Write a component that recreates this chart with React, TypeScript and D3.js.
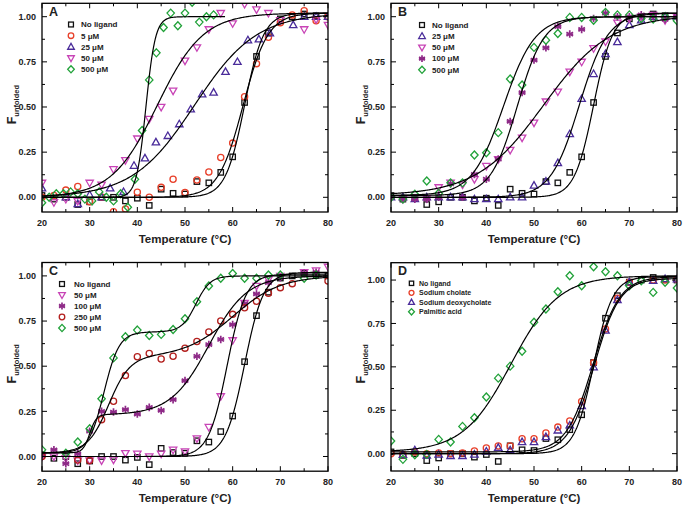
import React from 'react';
import * as d3 from 'd3';

const FONT = '"Liberation Sans", Arial, Helvetica, sans-serif';

// ---- tick values ----
const xMajor = [20, 30, 40, 50, 60, 70, 80];
const xMinor = [25, 35, 45, 55, 65, 75];
const yMajor = [0, 0.25, 0.5, 0.75, 1.0];
const yMinor = [0.125, 0.375, 0.625, 0.875];

// ---- data: [temperature °C, F unfolded] ----
const noLigand: [number, number][] = [[20,0.01],[22.5,-0.01],[25,0.0],[27.5,-0.04],[30,-0.025],[32.5,0.0],[35,0.0],[37.5,-0.02],[40,-0.005],[42.5,-0.045],[45,0.045],[47.5,0.022],[50,0.018],[52.5,0.087],[55,0.08],[57.5,0.138],[60,0.224],[62.5,0.525],[65,0.78],[67.5,0.91],[70,0.988],[72.5,1.0],[75,1.015],[77.5,1.005],[80,1.0]];

const a5uM: [number, number][] = [[20,0.0],[22.5,0.01],[25,0.04],[27.5,0.06],[30,-0.024],[32.5,0.0],[35,-0.08],[37.5,-0.065],[40,0.028],[42.5,0.0],[45,0.055],[47.5,0.10],[50,0.026],[52.5,0.096],[55,0.14],[57.5,0.22],[60,0.30],[62.5,0.557],[65,0.74],[67.5,0.886],[70,0.967],[72.5,1.01],[75,1.033],[77.5,0.978],[80,1.0]];
const a25uM: [number, number][] = [[20,0.05],[25,0.0],[27.5,-0.037],[30,0.013],[32.5,0.0],[34.3,0.05],[37.1,0.03],[39.3,0.175],[41.6,0.216],[43.9,0.305],[46.4,0.34],[48.8,0.405],[51.2,0.487],[53.6,0.57],[56.0,0.58],[58.5,0.695],[61.0,0.75],[63.2,0.87],[65.5,0.875],[67.8,0.908],[72.7,0.954],[75,1.0],[77.5,1.0],[80,1.0]];
const a50uM: [number, number][] = [[20,0.08],[22.5,-0.028],[25,-0.01],[27.5,-0.02],[30,0.08],[32.5,0.07],[35,0.155],[37.5,0.205],[40,0.325],[42.5,0.434],[45,0.50],[47.5,0.59],[50,0.756],[52.5,0.83],[55,0.93],[57.5,1.02],[60,0.963],[62.5,1.07],[65,1.04],[67.5,1.02],[70,0.98],[75,0.93],[77.5,0.985],[80,0.954]];
const a500uM: [number, number][] = [[20,-0.03],[21.5,0.0],[23,0.02],[24.5,0.02],[26,0.03],[27.5,0.02],[29,-0.01],[30.5,-0.02],[32,0.03],[33.5,0.0],[35,-0.02],[36.5,0.02],[38,-0.055],[39.5,0.10],[41,0.37],[42.5,0.65],[44,0.80],[45.5,0.94],[47,1.02],[48.5,0.95],[50,1.02],[51.5,1.08],[53,0.97],[54.5,1.0],[56,1.01]];

const b25uM: [number, number][] = [[20,0.0],[22.5,0.0],[25,-0.01],[27.5,0.0],[30,0.0],[32.5,0.0],[35,0.0],[37.5,-0.01],[40,-0.01],[42.5,-0.01],[45,0.0],[47.5,0.0],[50,0.065],[52.5,0.087],[55,0.19],[57.5,0.35],[60,0.545],[62.5,0.683],[65,0.793],[67.5,0.86],[70,0.954],[72.5,0.98],[75,1.0],[77.5,1.0],[80,1.0]];
const b50uM: [number, number][] = [[22.5,-0.01],[25,0.0],[27.5,-0.005],[30,0.055],[32.5,0.08],[35,0.07],[37.5,0.10],[40,0.173],[42.5,0.21],[45,0.262],[47.5,0.33],[50,0.413],[52.5,0.53],[55,0.585],[57.5,0.695],[60,0.75],[62.5,0.825],[65,0.862],[67.5,0.967],[70,0.99],[72.5,1.0],[75,1.01],[77.5,0.98],[80,1.0]];
const b100uM: [number, number][] = [[20,0.0],[22.5,-0.01],[25,-0.01],[27.5,-0.01],[30,0.0],[32.5,0.075],[35,0.0],[37.5,0.127],[40,0.10],[42.5,0.212],[45,0.42],[47.5,0.58],[50,0.76],[52.5,0.828],[55,0.945],[57.5,0.904],[60,0.93],[62.5,0.99],[65,1.02],[67.5,1.0],[70,1.0],[72.5,1.01],[75,1.0],[77.5,0.985],[80,1.0]];
const b500uM: [number, number][] = [[20,0.0],[22.5,-0.01],[25,0.017],[27.5,0.09],[30,0.022],[32.5,0.08],[35,0.08],[37.5,0.234],[40,0.247],[42.5,0.358],[45,0.655],[47.5,0.622],[50,0.83],[52.5,0.87],[55,0.907],[57.5,0.996],[60,0.996],[62.5,0.98],[65,1.024],[67.5,1.01],[70,1.01],[72.5,0.99],[75,0.987],[77.5,1.0],[80,0.978]];

const c50uM: [number, number][] = [[20,0.0],[22.5,0.0],[25,-0.01],[27.5,-0.022],[30,-0.022],[32.5,-0.022],[35,-0.018],[37.5,0.018],[40,0.015],[42.5,0.0],[45,0.015],[47.5,0.037],[50,0.028],[52.5,0.10],[55,0.163],[57.5,0.333],[60,0.643],[62.5,0.85],[65,0.944],[67.5,0.98],[70,1.0],[75,1.02],[77.5,1.03],[80,1.05]];
const c100uM: [number, number][] = [[20,0.01],[22.5,0.037],[25,-0.04],[27.5,0.015],[30,0.14],[32.5,0.25],[35,0.246],[37.5,0.26],[40,0.235],[42.5,0.272],[45,0.255],[47.5,0.315],[50,0.42],[52.5,0.555],[55,0.62],[57.5,0.648],[60,0.73],[62.5,0.846],[65,0.90],[67.5,0.963],[70,0.99],[75,1.015],[77.5,1.02]];
const c250uM: [number, number][] = [[20,0.0],[27.5,-0.02],[30,-0.022],[32.5,0.204],[35,0.306],[37.5,0.448],[40,0.552],[42.5,0.57],[45,0.54],[47.5,0.555],[50,0.60],[52.5,0.637],[55,0.69],[57.5,0.75],[60,0.787],[62.5,0.824],[65,0.86],[67.5,0.904],[70,0.935],[72.5,0.957],[80,0.972]];
const c500uM: [number, number][] = [[20,0.037],[25,0.018],[27.5,0.08],[30,0.154],[32.5,0.32],[35,0.546],[37.5,0.663],[40,0.70],[42.5,0.67],[45,0.676],[47.5,0.703],[50,0.763],[52.5,0.857],[55,0.944],[57.5,0.987],[60,1.013],[62.5,0.987],[65,0.987],[67.5,1.005],[70,1.005],[75,0.987],[77.5,1.005]];

const dCholate: [number, number][] = [[20,0.0],[22.5,-0.005],[25,0.01],[27.5,0.0],[30,0.004],[32.5,0.0],[35,0.004],[37.5,0.015],[40,0.033],[42.5,0.044],[45,0.044],[47.5,0.086],[50,0.086],[52.5,0.119],[55,0.153],[57.5,0.188],[60,0.30],[62.5,0.523],[65,0.718],[67.5,0.895],[70,0.987],[75,1.0],[77.5,1.0],[80,1.005]];
const dDeoxy: [number, number][] = [[22.5,-0.006],[25,0.02],[27.5,-0.01],[30,-0.005],[32.5,-0.013],[35,-0.013],[37.5,-0.005],[40,0.013],[42.5,0.034],[45,0.02],[47.5,0.067],[50,0.067],[52.5,0.096],[55,0.134],[57.5,0.163],[60,0.274],[62.5,0.498],[65,0.709],[67.5,0.885],[70,0.987],[75,0.996],[77.5,1.006],[80,1.005]];
const dPalmitic: [number, number][] = [[20,0.073],[22.5,-0.033],[25,-0.006],[27.5,-0.004],[30,0.082],[32.5,0.067],[35,0.157],[37.5,0.207],[40,0.326],[42.5,0.435],[45,0.504],[47.5,0.59],[50,0.757],[52.5,0.833],[55,0.933],[57.5,1.025],[60,0.967],[62.5,1.077],[65,1.048],[67.5,1.025],[70,0.967],[72.5,0.996],[75,0.929],[77.5,0.987],[80,0.954]];

// ---- fitted transitions: [baseline, amp1, Tm1, width1, (amp2, Tm2, width2)] ----
const fitNoLigand = [0, 1.02, 62.5, 2.0];
const fitA5 = [0, 1.02, 62.2, 2.6];
const fitA25 = [0, 1.02, 52, 6.5];
const fitA50 = [0, 1.02, 44.2, 4.8];
const fitA500 = [0, 1.0, 41.8, 1.0];
const fitB25 = [0, 1.02, 59.5, 3.0];
const fitB50 = [0.01, 1.0, 52, 7];
const fitB100 = [0.01, 0.99, 46.5, 2.8];
const fitB500 = [0.01, 0.99, 43.6, 3.3];
const fitC50 = [0, 1.01, 58.85, 1.95];
const fitC100 = [0.02, 0.21, 30, 0.7, 0.77, 55, 4];
const fitC250 = [0.02, 0.53, 34, 2.2, 0.45, 60, 5];
const fitC500 = [0.02, 0.67, 33, 1.6, 0.31, 52.3, 1.5];
const fitCholate = [0.01, 1.01, 62.4, 2.8];
const fitDeoxy = [0.0, 1.01, 62.6, 2.7];
const fitPalmitic = [0.01, 1.015, 45.2, 5.0];

const BLACK = '#111111';
const RED = '#e8402a';
const DARKRED = '#b3201e';
const INDIGO = '#4a2c9a';
const MAGENTA = '#c844b6';
const PURPLE = '#8e2a87';
const GREEN = '#22a23a';

type Marker = 'square' | 'circle' | 'triUp' | 'triDown' | 'star' | 'diamond';
type Series = { name: string; data: [number, number][]; marker: Marker; color: string; fit: number[]; fitEnd?: number };

type Panel = {
  letter: string;
  x0: number; x1: number; yTop: number; yBot: number;
  yDomain: [number, number];
  legendX: number; legendTextX: number; legendY: number; legendStep: number; legendFont: number; legendScale: number;
  series: Series[];
};

const panels: Panel[] = [
  {
    letter: 'A', x0: 42, x1: 328, yTop: 3.3, yBot: 212, yDomain: [-0.0814, 1.0742],
    legendX: 71, legendTextX: 81, legendY: 24.5, legendStep: 11.2, legendFont: 8, legendScale: 0.9,
    series: [
      { name: 'No ligand', data: noLigand, marker: 'square', color: BLACK, fit: fitNoLigand },
      { name: '5 μM', data: a5uM, marker: 'circle', color: RED, fit: fitA5 },
      { name: '25 μM', data: a25uM, marker: 'triUp', color: INDIGO, fit: fitA25 },
      { name: '50 μM', data: a50uM, marker: 'triDown', color: MAGENTA, fit: fitA50 },
      { name: '500 μM', data: a500uM, marker: 'diamond', color: GREEN, fit: fitA500, fitEnd: 58.5 },
    ],
  },
  {
    letter: 'B', x0: 391, x1: 677, yTop: 3.3, yBot: 212, yDomain: [-0.0814, 1.0742],
    legendX: 422, legendTextX: 432, legendY: 25, legendStep: 11.2, legendFont: 8, legendScale: 0.9,
    series: [
      { name: 'No ligand', data: noLigand, marker: 'square', color: BLACK, fit: fitNoLigand },
      { name: '25 μM', data: b25uM, marker: 'triUp', color: INDIGO, fit: fitB25 },
      { name: '50 μM', data: b50uM, marker: 'triDown', color: MAGENTA, fit: fitB50 },
      { name: '100 μM', data: b100uM, marker: 'star', color: PURPLE, fit: fitB100 },
      { name: '500 μM', data: b500uM, marker: 'diamond', color: GREEN, fit: fitB500 },
    ],
  },
  {
    letter: 'C', x0: 42, x1: 328, yTop: 262.5, yBot: 471.2, yDomain: [-0.0814, 1.0742],
    legendX: 62, legendTextX: 74, legendY: 284, legendStep: 11, legendFont: 8, legendScale: 0.9,
    series: [
      { name: 'No ligand', data: noLigand, marker: 'square', color: BLACK, fit: fitNoLigand },
      { name: '50 μM', data: c50uM, marker: 'triDown', color: MAGENTA, fit: fitC50 },
      { name: '100 μM', data: c100uM, marker: 'star', color: PURPLE, fit: fitC100 },
      { name: '250 μM', data: c250uM, marker: 'circle', color: DARKRED, fit: fitC250 },
      { name: '500 μM', data: c500uM, marker: 'diamond', color: GREEN, fit: fitC500 },
    ],
  },
  {
    letter: 'D', x0: 391, x1: 677, yTop: 262.7, yBot: 471, yDomain: [-0.1, 1.1],
    legendX: 411.5, legendTextX: 419, legendY: 283.3, legendStep: 9.5, legendFont: 7, legendScale: 0.8,
    series: [
      { name: 'No ligand', data: noLigand, marker: 'square', color: BLACK, fit: fitNoLigand },
      { name: 'Sodium cholate', data: dCholate, marker: 'circle', color: RED, fit: fitCholate },
      { name: 'Sodium deoxycholate', data: dDeoxy, marker: 'triUp', color: INDIGO, fit: fitDeoxy },
      { name: 'Palmitic acid', data: dPalmitic, marker: 'diamond', color: GREEN, fit: fitPalmitic },
    ],
  },
];

function fitValue(p: number[], t: number): number {
  let v = p[0] + p[1] / (1 + Math.exp((p[2] - t) / p[3]));
  if (p.length > 4) v += p[4] / (1 + Math.exp((p[5] - t) / p[6]));
  return v;
}

function MarkerShape({ type, x, y, color, s = 1 }: { type: Marker; x: number; y: number; color: string; s?: number }) {
  const sw = 1.3;
  const common = { fill: 'none', stroke: color, strokeWidth: sw };
  switch (type) {
    case 'square':
      return <rect x={x - 2.7 * s} y={y - 2.7 * s} width={5.4 * s} height={5.4 * s} {...common} />;
    case 'circle':
      return <circle cx={x} cy={y} r={3.1 * s} {...common} />;
    case 'triUp':
      return <polygon points={`${x},${y - 3.9 * s} ${x + 3.7 * s},${y + 2.6 * s} ${x - 3.7 * s},${y + 2.6 * s}`} {...common} strokeLinejoin="miter" />;
    case 'triDown':
      return <polygon points={`${x},${y + 3.9 * s} ${x + 3.7 * s},${y - 2.6 * s} ${x - 3.7 * s},${y - 2.6 * s}`} {...common} strokeLinejoin="miter" />;
    case 'diamond':
      return <polygon points={`${x},${y - 4 * s} ${x + 3.7 * s},${y} ${x},${y + 4 * s} ${x - 3.7 * s},${y}`} {...common} />;
    case 'star': {
      const r = 3.8 * s;
      const angles = [90, 30, 150];
      return (
        <g stroke={color} strokeWidth={1.7} strokeLinecap="butt">
          {angles.map((a) => {
            const dx = r * Math.cos((a * Math.PI) / 180);
            const dy = r * Math.sin((a * Math.PI) / 180);
            return <line key={a} x1={x - dx} y1={y - dy} x2={x + dx} y2={y + dy} />;
          })}
          <line x1={x - r * 0.9} y1={y} x2={x + r * 0.9} y2={y} />
        </g>
      );
    }
  }
  return null;
}

function PanelView({ p, idx }: { p: Panel; idx: number }) {
  const x = d3.scaleLinear().domain([20, 80]).range([p.x0, p.x1]);
  const y = d3.scaleLinear().domain(p.yDomain).range([p.yBot, p.yTop]);
  const clipId = `clip-${idx}`;
  const line = d3
    .line<[number, number]>()
    .x((d) => x(d[0]))
    .y((d) => y(d[1]));
  const majorLen = 5;
  const minorLen = 3;
  const w = p.x1 - p.x0;
  const h = p.yBot - p.yTop;
  const cx = (p.x0 + p.x1) / 2;
  const cy = (p.yTop + p.yBot) / 2;
  return (
    <g>
      <defs>
        <clipPath id={clipId}>
          <rect x={p.x0} y={p.yTop} width={w} height={h} />
        </clipPath>
      </defs>
      {/* markers */}
      <g clipPath={`url(#${clipId})`}>
        {p.series.map((s, si) => (
          <g key={si}>
            {s.data.map((d, di) => (
              <MarkerShape key={di} type={s.marker} x={x(d[0])} y={y(d[1])} color={s.color} />
            ))}
          </g>
        ))}
        {p.series.map((s, si) => {
          const end = s.fitEnd ?? 80;
          const pts: [number, number][] = d3.range(20, end + 0.001, 0.2).map((t) => [t, fitValue(s.fit, t)]);
          return <path key={si} d={line(pts) || ''} fill="none" stroke="#000" strokeWidth={1.2} />;
        })}
      </g>
      {/* frame */}
      <rect x={p.x0} y={p.yTop} width={w} height={h} fill="none" stroke="#000" strokeWidth={1.3} />
      {/* ticks */}
      <g stroke="#000" strokeWidth={1}>
        {xMajor.map((t) => (
          <g key={`xm${t}`}>
            <line x1={x(t)} x2={x(t)} y1={p.yBot} y2={p.yBot - majorLen} />
            <line x1={x(t)} x2={x(t)} y1={p.yTop} y2={p.yTop + majorLen} />
          </g>
        ))}
        {xMinor.map((t) => (
          <g key={`xn${t}`}>
            <line x1={x(t)} x2={x(t)} y1={p.yBot} y2={p.yBot - minorLen} />
            <line x1={x(t)} x2={x(t)} y1={p.yTop} y2={p.yTop + minorLen} />
          </g>
        ))}
        {yMajor.map((t) => (
          <g key={`ym${t}`}>
            <line x1={p.x0} x2={p.x0 + majorLen} y1={y(t)} y2={y(t)} />
            <line x1={p.x1} x2={p.x1 - majorLen} y1={y(t)} y2={y(t)} />
          </g>
        ))}
        {yMinor.map((t) => (
          <g key={`yn${t}`}>
            <line x1={p.x0} x2={p.x0 + minorLen} y1={y(t)} y2={y(t)} />
            <line x1={p.x1} x2={p.x1 - minorLen} y1={y(t)} y2={y(t)} />
          </g>
        ))}
      </g>
      {/* tick labels */}
      <g fontFamily={FONT} fontWeight="bold" fontSize={9} fill="#222">
        {xMajor.map((t) => (
          <text key={`xl${t}`} x={x(t)} y={p.yBot + 13.5} textAnchor="middle">
            {t}
          </text>
        ))}
        {yMajor.map((t) => (
          <text key={`yl${t}`} x={p.x0 - 6} y={y(t) + 3.2} textAnchor="end">
            {d3.format('.2f')(t)}
          </text>
        ))}
      </g>
      {/* axis titles */}
      <text x={cx} y={p.yBot + 31} textAnchor="middle" fontFamily={FONT} fontWeight="bold" fontSize={11.5} fill="#222">
        Temperature (°C)
      </text>
      <text
        transform={`translate(${p.x0 - 26.5},${cy - 3}) rotate(-90)`}
        textAnchor="middle"
        fontFamily={FONT}
        fontWeight="bold"
        fill="#222"
      >
        <tspan fontSize={12.5}>F</tspan>
        <tspan fontSize={7.5} dy={3}>unfolded</tspan>
      </text>
      {/* panel letter */}
      <text x={p.x0 + 7} y={p.yTop + 12.5} fontFamily={FONT} fontWeight="bold" fontSize={12.5} fill="#222">
        {p.letter}
      </text>
      {/* legend */}
      <g>
        {p.series.map((s, si) => {
          const ly = p.legendY + si * p.legendStep;
          return (
            <g key={si}>
              <MarkerShape type={s.marker} x={p.legendX} y={ly} color={s.color} s={p.legendScale} />
              <text x={p.legendTextX} y={ly + p.legendFont * 0.36} fontFamily={FONT} fontWeight="bold" fontSize={p.legendFont} fill="#222">
                {s.name}
              </text>
            </g>
          );
        })}
      </g>
    </g>
  );
}

export default function App() {
  return (
    <svg width={683} height={508} viewBox="0 0 683 508" style={{ display: 'block', position: 'absolute', left: 0, top: 0, background: '#fff' }}>
      <rect x={0} y={0} width={683} height={508} fill="#fff" />
      {panels.map((p, i) => (
        <PanelView key={p.letter} p={p} idx={i} />
      ))}
    </svg>
  );
}
